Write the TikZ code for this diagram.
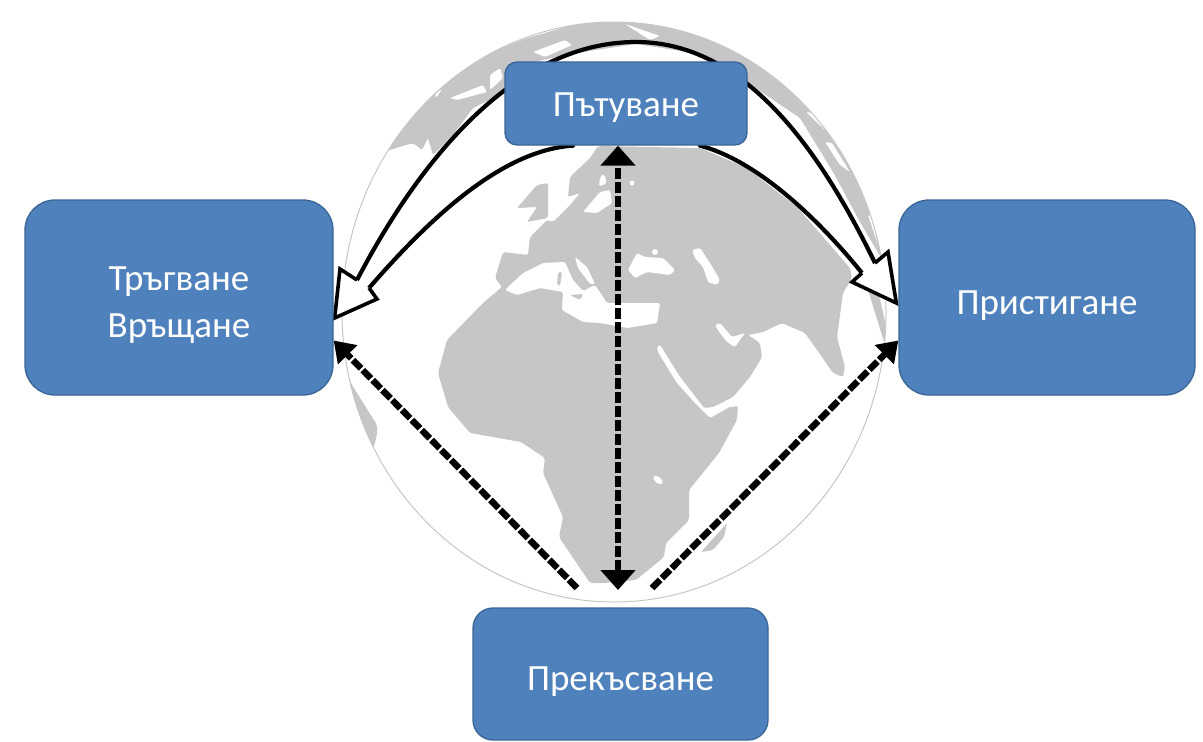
\documentclass[tikz,border=0pt]{standalone}
\usepackage{fontspec}
\setmainfont{Carlito}
\usetikzlibrary{arrows.meta,calc}
\definecolor{boxblue}{HTML}{4F81BD}
\definecolor{boxedge}{HTML}{3A6596}
\definecolor{land}{HTML}{C6C6C6}
\newcommand{\lowtext}[2]{\raisebox{-#1pt}[26pt][8pt]{#2}}
\pgfdeclarelayer{back}
\pgfsetlayers{back,main}
\tikzset{
  blockbox/.style={draw=boxedge,line width=1.3pt,fill=boxblue,text=white,font=\fontsize{37}{47}\selectfont,align=center,anchor=center},
  bigbox/.style={blockbox,rounded corners=30pt,minimum width=308pt,minimum height=195pt},
  curvearrow/.style={draw=black,line width=4.2pt,line cap=round},
  headline/.style={draw=black,line width=3.6pt,line join=miter},
  dashline/.style={draw=black,line width=6.5pt,dash pattern=on 11.5pt off 2.5pt},
  land/.style={fill=land,draw=none,rounded corners=2pt},
  sea/.style={fill=white,draw=none,rounded corners=1.5pt}
}
\begin{document}
\begin{tikzpicture}[x=1pt,y=-1pt]
\useasboundingbox (0,0) rectangle (1203,742);
\node[blockbox,rounded corners=12pt,minimum width=242pt,minimum height=83pt] (travel) at (626,103.5) {\lowtext{4}{Пътуване}};
\node[bigbox] (start) at (179,297.5) {\lowtext{7}{Тръгване}\\\lowtext{7}{Връщане}};
\node[bigbox,minimum width=296pt] (arrive) at (1047,297.5) {\lowtext{8}{Пристигане}};
\node[blockbox,rounded corners=20pt,minimum width=295pt,minimum height=132pt] (interrupt) at (620.5,674) {\lowtext{7}{Прекъсване}};
\coordinate (apex) at (636,42);
\coordinate (ltip) at ($(start.east)+(1,20.5)$);
\coordinate (lb1) at (340,269);
\coordinate (ln1) at (357,280);
\coordinate (ln2) at (369,288);
\coordinate (lb2) at (377,299);
\coordinate (rtip) at ($(arrive.west)+(-2,5.5)$);
\coordinate (rb1) at (888,252);
\coordinate (rn1) at (875,263);
\coordinate (rn2) at (862,273);
\coordinate (rb2) at (852,282);
\coordinate (vtop) at ($(travel.south)+(-8,0)$);
\coordinate (vbot) at (618,590);
\coordinate (dl) at (577,588);
\coordinate (dr) at (652,588);
\begin{pgfonlayer}{back}
\begin{scope}
\clip (614,312) ellipse [x radius=272,y radius=290];
% continents
\path[land] (598,146) -- (700,148) -- (747,168) -- (798,208) -- (850,268) -- (852,278) -- (843,293) -- (837,337) -- (845,367) -- (843,377) -- (833,373) -- (817,350) -- (805,333) -- (782,323) -- (763,332) -- (748,335) -- (760,343) -- (762,357) -- (750,377) -- (733,397) -- (707,410) -- (738,406) -- (737,420) -- (719,453) -- (689,490) -- (689,520) -- (666,543) -- (664,557) -- (636,580) -- (604,583) -- (590,583) -- (559,537) -- (563,517) -- (543,473) -- (545,458) -- (521,442) -- (470,433) -- (448,407) -- (438,373) -- (447,340) -- (483,303) -- (502,287) -- (495,278) -- (503,252) -- (528,255) -- (530,237) -- (547,220) -- (553,222) -- (572,203) -- (580,193) -- (568,197) -- (570,177) -- (590,158) -- cycle;
\path[land] (517,208) -- (537,185) -- (548,183) -- (548,218) -- (527,222) -- (537,207) -- cycle;
\path[land] (727,523) -- (701,552) -- (713,550) -- (724,537) -- cycle;
\path[land] (335,350) -- (341,360) -- (352,385) -- (377,425) -- (377,435) -- (373,450) -- (340,450) -- cycle;
% polar band, left and top
\path[land] (383,152) -- (413,112) -- (447,78) -- (483,55) -- (527,38) -- (573,25) -- (628,18) -- (700,34) -- (743,54) -- (787,88) -- (827,124) -- (857,170) -- (880,230) -- (880,256) -- (860,222) -- (833,172) -- (800,118) -- (748,83) -- (740,62) -- (505,92) -- (473,108) -- (453,135) -- (433,155) -- (428,138) -- (422,150) -- (413,143) -- cycle;
\path[sea] (535,62) -- (570,54) -- (636,44) -- (700,54) -- (735,70) -- (700,80) -- (560,80) -- cycle;
% rim sliver by the right hand box
\path[land] (868,290) -- (878,290) -- (888,335) -- (885,345) -- cycle;
% inland water
\path[sea] (505,290) -- (523,273) -- (543,263) -- (565,262) -- (573,280) -- (583,291) -- (595,285) -- (607,303) -- (640,303) -- (660,303) -- (657,323) -- (627,328) -- (600,323) -- (583,322) -- (562,310) -- (563,292) -- (540,288) -- (517,295) -- cycle;
\path[sea] (575,257) -- (587,267) -- (595,284) -- (590,284) -- (578,268) -- cycle;
\path[land] (558,272) -- (562,272) -- (560,286) -- (557,285) -- cycle;
\path[land] (570,295) -- (583,294) -- (580,300) -- cycle;
\path[sea] (583,212) -- (600,192) -- (610,190) -- (612,203) -- (597,213) -- cycle;
\path[sea] (603,174) -- (606,178) -- (606,184) -- (599,186) -- (600,178) -- cycle;
\path[sea] (632,183) circle [radius=2.5];
\path[sea] (628,270) -- (637,253) -- (645,257) -- (663,258) -- (675,270) -- (670,275) -- (647,272) -- (635,278) -- cycle;
\path[sea] (655,252) circle [radius=3];
\path[sea] (692,250) -- (700,248) -- (710,263) -- (720,280) -- (717,285) -- (708,282) -- (703,267) -- (695,258) -- cycle;
\path[sea] (715,325) -- (720,323) -- (732,337) -- (745,333) -- (735,347) -- (727,342) -- (720,333) -- cycle;
\path[sea] (657,347) -- (660,345) -- (680,377) -- (704,408) -- (733,405) -- (710,418) -- (695,403) -- (677,383) -- (658,352) -- cycle;
\path[sea,rotate around={-40:(658,480)}] (658,480) ellipse [x radius=5.5,y radius=3];
% ice and inlets in the band
\path[sea] (450,98) -- (483,85) -- (487,92) -- (457,100) -- cycle;
\path[sea] (435,94) -- (442,89) -- (436,98) -- cycle;
\path[sea] (490,75) -- (500,68) -- (503,78) -- (490,90) -- cycle;
\path[sea] (533,52) -- (565,40) -- (572,45) -- (545,57) -- cycle;
\path[sea] (625,24) -- (660,36) -- (650,40) -- cycle;
\path[sea] (806,112) -- (814,113) -- (825,130) -- cycle;
\path[sea] (825,142) -- (832,143) -- (850,172) -- (840,165) -- cycle;
\path[sea] (868,215) -- (872,215) -- (878,245) -- cycle;
\end{scope}
\draw[draw=land,line width=1pt] (614,312) ellipse [x radius=272,y radius=290];
% solid curved connectors
\draw[curvearrow] (ln1) .. controls (425,150) and (520,42) .. (apex) .. controls (745,42) and (820,150) .. (rn1);
\draw[curvearrow] (ln2) .. controls (435,212) and (505,150) .. ($(travel.south)+(-53,0)$);
\draw[curvearrow] ($(travel.south)+(74,0)$) .. controls (755,160) and (815,215) .. (rn2);
% open heads
\path[fill=white] (ltip) -- (lb1) -- (ln1) -- (ln2) -- (lb2) -- cycle;
\draw[headline] (ln1) -- (lb1) -- (ltip) -- (lb2) -- (ln2);
\path[fill=white] (rtip) -- (rb1) -- (rn1) -- (rn2) -- (rb2) -- cycle;
\draw[headline] (rn1) -- (rb1) -- (rtip) -- (rb2) -- (rn2);
% dashed connectors
\draw[dashline,{Triangle[length=20pt,width=34pt]}-{Triangle[length=20pt,width=34pt]}] (vbot) -- (vtop);
\draw[dashline,-{Triangle[length=20pt,width=26pt]}] (dl) -- ($(start.east)+(0,43)$);
\draw[dashline,-{Triangle[length=20pt,width=26pt]}] (dr) -- ($(arrive.west)+(0,43)$);
\end{pgfonlayer}
\end{tikzpicture}
\end{document}
